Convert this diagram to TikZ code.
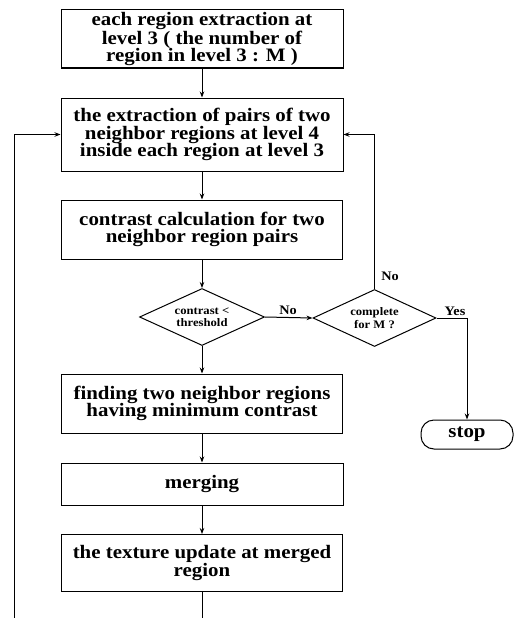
\documentclass[tikz,border=0pt]{standalone}
\usepackage{fontspec}
\setmainfont{Liberation Serif}[FakeStretch=1.1]
\usetikzlibrary{arrows.meta,shapes.geometric}
\begin{document}
\begin{tikzpicture}[x=1pt,y=-1pt, line width=1pt,
 box/.style={draw, rectangle, inner sep=0pt, align=center, font=\bfseries\fontsize{19}{17.5}\selectfont},
 dia/.style={draw, diamond, inner sep=0pt},
 dtext/.style={inner sep=0pt, align=center, font=\bfseries\fontsize{11.5}{12.3}\selectfont},
 lbl/.style={inner sep=0pt, font=\bfseries\fontsize{13}{13}\selectfont},
 arr/.style={-{Stealth[length=6pt,width=4.5pt]}}]
\useasboundingbox (0,0) rectangle (531,618);
\node[box, minimum width=282pt, minimum height=58pt] (b1) at (202,39) {each region extraction at\\level 3 ( the number of\\region in level 3 : M )};
\node[box, minimum width=282pt, minimum height=73pt] (b2) at (202,134.5) {the extraction of pairs of two\\neighbor regions at level 4\\inside each region at level 3};
\node[box, minimum width=281pt, minimum height=59pt] (b3) at (202,229.5) {contrast calculation for two\\neighbor region pairs};
\node[dia, minimum width=125pt, minimum height=57pt] (d1) at (202,317) {};
\node[dtext] (d1t) at (d1) {contrast <\\threshold};
\node[dia, minimum width=123pt, minimum height=57pt] (d2) at (374.5,318) {};
\node[dtext] (d2t) at (d2) {complete\\for M ?};
\node[box, minimum width=281pt, minimum height=59pt] (b4) at (202,403.5) {finding two neighbor regions\\having minimum contrast};
\node[box, minimum width=282pt, minimum height=42pt] (b5) at (202,484) {merging};
\node[box, minimum width=281pt, minimum height=57pt] (b6) at (202,563) {the texture update at merged\\region};
\node[box, minimum width=92pt, minimum height=29pt, rounded corners=13pt] (stop) at (467,434.5) {stop};
\coordinate (bot) at (202,618);
\coordinate (lb) at (14,618);
\draw[arr] (b1) -- (b2);
\draw[arr] (b2) -- (b3);
\draw[arr] (b3) -- (d1);
\draw[arr] (d1) -- (b4);
\draw[arr] (b4) -- (b5);
\draw[arr] (b5) -- (b6);
\draw (b6) -- (bot);
\draw[arr] (lb) |- (b2.west);
\draw[arr] (d1.east) -- (d2.west);
\node[lbl] (no1) at (288,310) {No};
\draw[arr] (d2.north) |- (b2.east);
\node[lbl] (no2) at (390,276) {No};
\draw[arr] (d2.east) -| (stop.north);
\node[lbl] (yes) at (455,311) {Yes};
\end{tikzpicture}
\end{document}
